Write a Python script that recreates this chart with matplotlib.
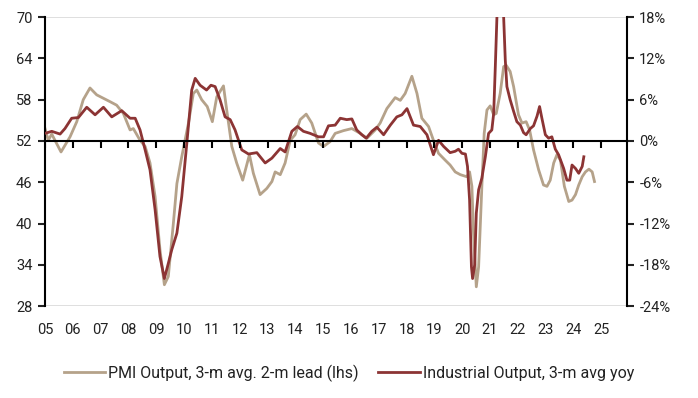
import numpy as np
import matplotlib
matplotlib.use("Agg")
import matplotlib.pyplot as plt
from matplotlib.ticker import FuncFormatter

plt.rcParams['font.family'] = ['Roboto', 'DejaVu Sans']

# months since Jan 2005
pmi_month = [0, 1.4, 2.9, 6.9, 10.8, 13.7, 16.5, 19.4, 22.3, 25.2, 28.1, 30.9, 33.8,
             36.7, 38.1, 41, 43.2, 45.3, 47.5, 49.6, 51.5, 53.2, 55.4, 56.9, 59,
             61.9, 64, 65.5, 67.6, 70, 72.2, 74.1, 77, 78.4, 80.6, 82.7, 85.3, 88.2,
             89.9, 92.8, 95.7, 97.9, 99.3, 101.5, 103.6, 105.8, 107.9, 110.1, 112.7,
             115.1, 118, 120.2, 123, 125.2, 128.8, 132.4, 136, 138.9, 142.5, 144.6,
             147.5, 151.1, 153.3, 155.4, 158.3, 160.5, 162.6, 165.5, 167.6, 169.8,
             172.7, 174.8, 177, 179.2, 182, 183.2, 184.2, 184.9, 186.1, 187.1, 188.5,
             189.5, 190.7, 192.1, 193.6, 194.7, 196.4, 197.9, 199, 200.7, 202.2,
             204.3, 205.8, 207.6, 209.1, 210.8, 213, 215.1, 216.6, 218, 219.5, 220.9,
             222.4, 224.1, 226, 227.4, 228.9, 230.3, 231.8, 233.2, 234.7, 236.1, 237.1]
pmi_value = [53.8, 52.1, 53.0, 50.4, 52.6, 54.8, 58.0, 59.7, 58.7, 58.2, 57.7, 57.2, 56.0,
             53.6, 53.8, 52.1, 51.2, 48.8, 43.9, 36.2, 31.1, 32.3, 40.1, 45.8, 49.7,
             54.6, 58.9, 59.4, 58.0, 57.0, 54.8, 58.4, 60.0, 56.5, 51.2, 48.8, 46.3, 50.0,
             47.3, 44.2, 45.1, 46.1, 47.5, 47.1, 48.8, 52.1, 52.9, 55.1, 55.9,
             54.6, 51.7, 51.2, 51.9, 53.1, 53.5, 53.8, 53.1, 52.4, 53.6, 54.6,
             56.7, 58.3, 57.9, 58.9, 61.4, 58.9, 55.3, 54.1, 52.1, 50.2,
             49.2, 48.5, 47.5, 47.1, 46.8, 47.5, 45.4, 38.6, 30.8, 33.7, 45.4,
             53.1, 56.5, 57.1, 55.8, 56.0, 58.9, 62.8, 63.0, 62.1, 59.9,
             55.8, 54.6, 54.8, 53.6, 50.7, 47.8, 45.6, 45.4, 46.3, 48.8, 50.0,
             49.2, 45.4, 43.2, 43.4, 44.2, 45.6, 46.8, 47.5, 47.9, 47.5, 46.1]

ip_month = [0, 2.9, 6.5, 8.6, 11.5, 14.4, 18, 21.6, 25.2, 28.8, 33.1, 36.7, 38.9,
            41, 43.2, 45.3, 47.5, 49.6, 51.5, 53.2, 54.7, 56.9, 59, 61.2, 63.3, 64.8,
            66.9, 69.7, 71.6, 73.4, 75.5, 77.7, 79.9, 82, 84.9, 87.8, 91.4, 95, 97.9,
            101.5, 103.6, 106.5, 108.9, 111.5, 114.4, 118, 120.2, 122.3, 125.2, 127.4,
            130.2, 132.4, 134.5, 136.7, 138.6, 141, 143.2, 146.1, 149, 151.8, 154,
            156.2, 159, 161.9, 164.8, 167.6, 169.8, 172, 174.8, 177, 178.4, 179.9,
            181.4, 182.3, 183.2, 184, 184.5, 185.4, 186.1, 187.1, 188.5, 190, 191.4,
            192.8, 193.6, 194.3, 195, 196.5, 197.9, 198.6, 199.3, 200.7, 202.2, 203.6,
            205.1, 206.5, 207.6, 209.4, 210.8, 212.3, 213.4, 214.4, 215.9, 217.3,
            218.7, 220.2, 221.6, 223.8, 225.2, 226.4, 227.4, 228.9, 230.3, 231.8, 232.5]
ip_value = [1.1, 1.4, 1.0, 1.8, 3.3, 3.4, 4.9, 3.8, 4.9, 3.5, 4.4, 3.3, 3.3,
            1.6, -1.3, -4.2, -10.0, -16.8, -20.0, -17.8, -15.8, -13.4, -8.1, -0.3, 7.4, 9.1,
            8.1, 7.4, 8.1, 7.9, 6.0, 3.5, 3.1, 1.6, -1.3, -1.9, -1.7, -3.2, -2.5,
            -1.1, -1.6, 1.4, 2.1, 1.4, 1.1, 0.6, 0.6, 2.2, 2.3, 3.3,
            3.1, 3.2, 1.6, 0.9, 0.4, 1.4, 2.0, 0.9, 2.3, 3.5, 3.8,
            4.7, 2.3, 2.1, 0.9, -2.0, 0.1, -0.8, -1.7, -1.5, -1.2, -1.8,
            -1.9, -3.7, -8.6, -18.3, -20.0, -18.0, -10.5, -7.1, -5.4, -2.3, 1.1,
            1.6, 4.0, 10.8, 18.0, 26.0, 18.0, 11.8, 7.9, 6.0, 4.3, 2.8,
            2.3, 1.2, 0.9, 1.8, 2.2, 3.6, 5.0, 3.3, 0.9, 0.4,
            0.6, -1.2, -2.0, -4.0, -5.7, -5.7, -3.5, -4.0, -4.7, -3.7, -2.3]

years = list(range(2005, 2026))
year_labels = [f"{y % 100:02d}" for y in years]

tan = '#b5a28a'
red = '#8c3434'

pmi_x = 2005 + np.array(pmi_month) / 12
ip_x = 2005 + np.array(ip_month) / 12

fig = plt.figure(figsize=(6.98, 3.98), dpi=100)
ax = fig.add_axes([0.0645, 0.231, 0.8335, 0.726])
ax2 = ax.twinx()

ax.plot(pmi_x, pmi_value, color=tan, lw=2.0, zorder=2, label='PMI Output, 3-m avg. 2-m lead (lhs)')
ax2.plot(ip_x, ip_value, color=red, lw=2.0, zorder=3, label='Industrial Output, 3-m avg yoy')

ax.set_ylim(28, 70)
ax.set_yticks(range(28, 71, 6))
ax2.set_ylim(-24, 18)
ax2.set_yticks(range(-24, 19, 6))
ax2.yaxis.set_major_formatter(FuncFormatter(lambda v, p: f"{v:.0f}%"))
ax.set_xlim(2005, 2025.92)

# year labels along the bottom, no tick marks there
ax.set_xticks(years)
ax.set_xticklabels(year_labels)
ax.tick_params(axis='x', length=0, pad=12, labelsize=10.5, colors='#222222')
ax.tick_params(axis='y', direction='out', length=5, width=1.5, labelsize=10.5, colors='#222222', pad=4)
ax2.tick_params(axis='y', direction='out', length=5, width=1.5, labelsize=10.5, colors='#222222', pad=4)

for s in ('top', 'bottom', 'right'):
    ax.spines[s].set_visible(False)
for s in ('top', 'bottom', 'left'):
    ax2.spines[s].set_visible(False)
ax.spines['left'].set_linewidth(1.5)
ax2.spines['right'].set_linewidth(1.5)

# zero line with year ticks hanging below it (drawn on top of the series)
ax2.axhline(0, color='black', lw=1.5, zorder=4)
ax2.vlines(years, -1.0, 0, colors='black', lw=1.5, zorder=4)

# light gray lines at top and bottom
ax.axhline(70, color='#d9d9d9', lw=1.2, zorder=0)
ax.axhline(28, color='#d9d9d9', lw=1.2, zorder=0)

h1, l1 = ax.get_legend_handles_labels()
h2, l2 = ax2.get_legend_handles_labels()
fig.legend(h1 + h2, l1 + l2, loc='center', bbox_to_anchor=(0.5, 0.063), ncol=2,
           frameon=False, fontsize=11.5, handlelength=2.6, handletextpad=0.2,
           columnspacing=1.2, labelcolor='#222222')

fig.savefig('out.png', dpi=100)
